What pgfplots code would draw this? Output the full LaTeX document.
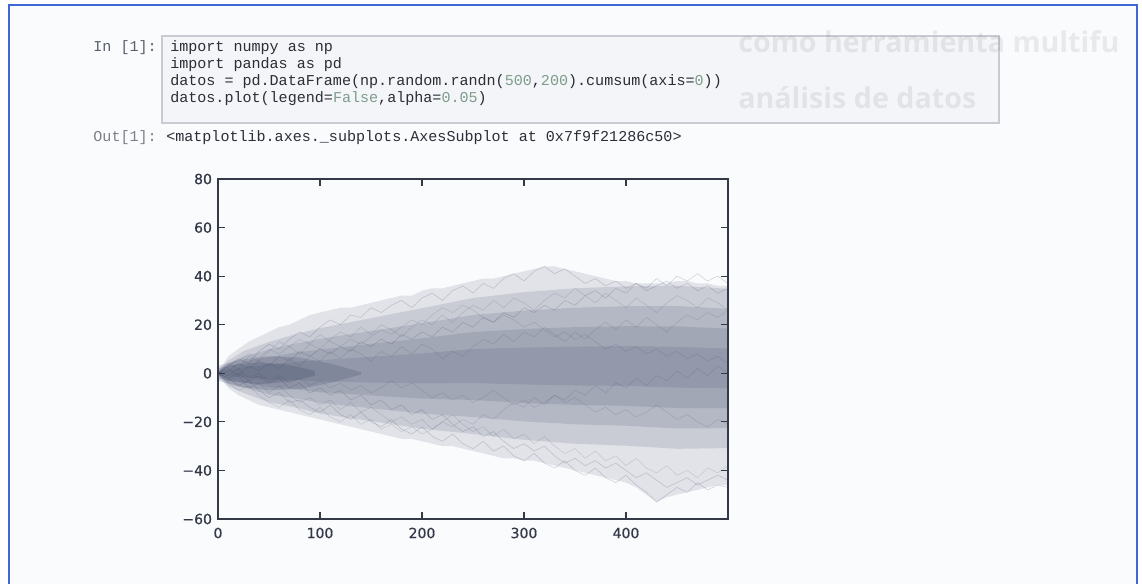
\documentclass[border=0pt]{standalone}
\usepackage{fontspec}
\setmainfont{DejaVu Sans}
\newfontfamily\codefont{Liberation Mono}
\newfontfamily\headfont{Open Sans}
\newfontfamily\tickfont[FakeBold=0.6]{DejaVu Sans}
\usepackage{pgfplots}
\pgfplotsset{compat=1.18}

\definecolor{frameblue}{HTML}{3F68D4}
\definecolor{pagebg}{HTML}{FAFBFD}
\definecolor{cellbg}{HTML}{F4F5F8}
\definecolor{cellline}{HTML}{C8CBD2}
\definecolor{codetxt}{HTML}{2A2E36}
\definecolor{prompt}{HTML}{5A606A}
\definecolor{numgreen}{HTML}{7E9C8A}
\definecolor{axisc}{HTML}{343948}
\definecolor{walk}{HTML}{2E3858}

\pgfplotsset{
  band/.style={draw=none, fill=walk, fill opacity=#1, mark=none},
  wk/.style={walk, line width=0.45pt, opacity=#1, mark=none},
}

\begin{document}
\begin{tikzpicture}
\begin{scope}[x=0.75pt,y=-0.75pt]
  \useasboundingbox (0,0) rectangle (1142,583);
  \fill[white] (0,0) rectangle (1142,583);
  \fill[pagebg] (9,5) rectangle (1137,600);
  \draw[frameblue, line width=1.6pt] (9,600) -- (9,5) -- (1137,5) -- (1137,600);

  % code cell
  \filldraw[fill=cellbg, draw=cellline, line width=0.8pt] (162,36) rectangle (999,123);
  \begin{scope}[every node/.style={inner sep=0pt, text=codetxt,
      font=\codefont\fontsize{11.3}{13}\selectfont}]
    \node[anchor=base east, text=prompt] at (157,51) {In [1]:};
    \node[anchor=base west] at (170,51) {import numpy as np};
    \node[anchor=base west] at (170,68) {import pandas as pd};
    \node[anchor=base west] at (170,85) {datos = pd.DataFrame(np.random.randn(\textcolor{numgreen}{500},\textcolor{numgreen}{200}).cumsum(axis=\textcolor{numgreen}{0}))};
    \node[anchor=base west] at (170,102) {datos.plot(legend=\textcolor{numgreen}{False},alpha=\textcolor{numgreen}{0.05})};
    \node[anchor=base east, text=prompt!80] at (157,141) {Out[1]:};
    \node[anchor=base west] at (166,141) {<matplotlib.axes.\_subplots.AxesSubplot at 0x7f9f21286c50>};
  \end{scope}
\end{scope}

\begin{axis}[
  at={(163.5pt,-389.25pt)}, anchor=south west,
  width=382.5pt, height=255pt, scale only axis,
  xmin=0, xmax=500, ymin=-60, ymax=80,
  xtick={0,100,200,300,400}, xticklabels={0,100,200,300,400},
  ytick={-60,-40,-20,0,20,40,60,80},
  yticklabels={−60,−40,−20,0,20,40,60,80},
  tick align=inside, major tick length=5pt,
  axis on top,
  axis line style={axisc, line width=1.1pt},
  every tick/.style={axisc, line width=0.8pt},
  tick label style={font=\tickfont\fontsize{10.5}{12}\selectfont, text=axisc},
  xticklabel style={yshift=-3pt},
  yticklabel style={xshift=-1pt},
]
  % spread of the 200 walks: outer edge, then nested bands
  \addplot[band=0.12] coordinates {(0,0.5) (10,7) (20,10) (30,13) (40,15) (50,17) (60,19) (70,20) (80,22) (90,24) (100,25) (110,26) (120,27) (130,27) (140,28) (150,29) (160,30) (170,31) (180,32) (190,32) (200,34) (210,35) (220,35) (230,36) (240,37) (250,38) (260,39) (270,39) (280,40) (290,41) (300,42) (310,43) (320,44) (330,44) (340,43) (350,42) (360,41) (370,40) (380,39) (390,38) (400,38) (410,37) (420,37) (430,37) (440,37) (450,38) (460,38) (470,37) (480,37) (490,36) (500,36)
    (500,-46) (490,-46) (480,-47) (470,-48) (460,-49) (450,-50) (440,-51) (430,-53) (420,-50) (410,-47) (400,-45) (390,-44) (380,-43) (370,-42) (360,-41) (350,-40) (340,-39) (330,-38) (320,-37) (310,-36) (300,-36) (290,-35) (280,-35) (270,-34) (260,-33) (250,-32) (240,-31) (230,-30) (220,-30) (210,-29) (200,-28) (190,-27) (180,-27) (170,-26) (160,-25) (150,-24) (140,-23) (130,-22) (120,-21) (110,-20) (100,-19) (90,-18) (80,-17) (70,-16) (60,-15) (50,-14) (40,-13) (30,-11) (20,-9) (10,-6) (0,-0.5)} -- cycle;
  \addplot[band=0.13] coordinates {(0,0.4) (10,5.2) (25,9.1) (50,12.9) (75,16) (100,18.6) (150,22.7) (200,26.8) (250,31) (300,33.4) (350,35) (400,35.8) (450,36.1) (500,34.8)
    (500,-30.8) (450,-31.1) (400,-29.8) (350,-29) (300,-27.4) (250,-25) (200,-22.8) (150,-19.7) (100,-16.6) (75,-14) (50,-11.9) (25,-8.1) (10,-5.2) (0,-0.4)} -- cycle;
  \addplot[band=0.13] coordinates {(0,0.3) (10,3.9) (25,6.9) (50,9.8) (75,12.2) (100,14.2) (150,17.4) (200,20.6) (250,24) (300,25.8) (350,27) (400,27.6) (450,27.7) (500,26.6)
    (500,-22.6) (450,-22.7) (400,-21.6) (350,-21) (300,-19.8) (250,-18) (200,-16.6) (150,-14.4) (100,-12.2) (75,-10.2) (50,-8.8) (25,-5.9) (10,-3.9) (0,-0.3)} -- cycle;
  \addplot[band=0.13] coordinates {(0,0.2) (10,2.6) (25,4.8) (50,6.7) (75,8.5) (100,9.8) (150,12.1) (200,14.4) (250,17) (300,18.2) (350,19) (400,19.4) (450,19.3) (500,18.4)
    (500,-14.4) (450,-14.3) (400,-13.4) (350,-13) (300,-12.2) (250,-11) (200,-10.4) (150,-9.1) (100,-7.8) (75,-6.5) (50,-5.7) (25,-3.8) (10,-2.6) (0,-0.2)} -- cycle;
  \addplot[band=0.12] coordinates {(0,0.1) (10,1.3) (25,2.6) (50,3.6) (75,4.7) (100,5.4) (150,6.8) (200,8.2) (250,10) (300,10.6) (350,11) (400,11.2) (450,10.9) (500,10.2)
    (500,-6.2) (450,-5.9) (400,-5.2) (350,-5) (300,-4.6) (250,-4) (200,-4.2) (150,-3.8) (100,-3.4) (75,-2.7) (50,-2.6) (25,-1.6) (10,-1.3) (0,-0.1)} -- cycle;
  % darker knot near the origin, where all walks still overlap
  \addplot[band=0.18] coordinates {(0,3) (20,5.5) (50,7) (80,6.5) (110,4) (140,0.5) (140,-0.5) (110,-4) (80,-6.5) (50,-7) (20,-5.5) (0,-3)} -- cycle;
  \addplot[band=0.2] coordinates {(0,2) (15,3.5) (40,4.5) (70,3.5) (95,1) (95,-1) (70,-3.5) (40,-4.5) (15,-3.5) (0,-2)} -- cycle;

  % single walks that make the ragged edges
  \addplot[wk=0.2] coordinates {(0,0) (10,3) (20,6) (30,4) (40,9) (50,12) (60,10) (70,14) (80,17) (90,15) (100,19) (110,22) (120,20) (130,24) (140,23) (150,27) (160,25) (170,28) (180,30) (190,27) (200,31) (210,33) (220,30) (230,34) (240,36) (250,33) (260,37) (270,35) (280,39) (290,41) (300,38) (310,42) (320,44) (330,41) (340,43) (350,40) (360,37) (370,39) (380,36) (390,38) (400,35) (410,37) (420,34) (430,36) (440,38) (450,35) (460,37) (470,34) (480,36) (490,33) (500,35)};
  \addplot[wk=0.2] coordinates {(0,0) (10,-2) (20,-5) (30,-3) (40,-7) (50,-10) (60,-8) (70,-12) (80,-11) (90,-14) (100,-16) (110,-13) (120,-17) (130,-19) (140,-16) (150,-20) (160,-22) (170,-19) (180,-23) (190,-25) (200,-22) (210,-26) (220,-28) (230,-25) (240,-29) (250,-31) (260,-28) (270,-32) (280,-30) (290,-34) (300,-36) (310,-33) (320,-37) (330,-39) (340,-36) (350,-40) (360,-42) (370,-39) (380,-43) (390,-45) (400,-42) (410,-46) (420,-49) (430,-53) (440,-50) (450,-47) (460,-49) (470,-45) (480,-48) (490,-46) (500,-47)};
  \addplot[wk=0.15] coordinates {(0,0) (10,4) (20,2) (30,7) (40,5) (50,9) (60,13) (70,11) (80,8) (90,12) (100,10) (110,14) (120,17) (130,15) (140,19) (150,16) (160,20) (170,18) (180,15) (190,19) (200,22) (210,20) (220,24) (230,21) (240,25) (250,28) (260,26) (270,30) (280,27) (290,31) (300,29) (310,26) (320,30) (330,33) (340,31) (350,35) (360,32) (370,29) (380,33) (390,30) (400,27) (410,31) (420,28) (430,25) (440,29) (450,32) (460,30) (470,27) (480,31) (490,29) (500,26)};
  \addplot[wk=0.15] coordinates {(0,0) (10,-3) (20,-1) (30,-6) (40,-4) (50,-8) (60,-5) (70,-9) (80,-12) (90,-10) (100,-13) (110,-11) (120,-15) (130,-12) (140,-16) (150,-14) (160,-17) (170,-20) (180,-18) (190,-21) (200,-19) (210,-23) (220,-20) (230,-17) (240,-21) (250,-24) (260,-22) (270,-26) (280,-23) (290,-27) (300,-25) (310,-29) (320,-26) (330,-30) (340,-33) (350,-31) (360,-35) (370,-32) (380,-36) (390,-34) (400,-38) (410,-35) (420,-39) (430,-41) (440,-38) (450,-42) (460,-40) (470,-43) (480,-39) (490,-41) (500,-38)};
  \addplot[wk=0.15] coordinates {(0,0) (10,2) (20,-1) (30,3) (40,1) (50,4) (60,2) (70,6) (80,3) (90,7) (100,5) (110,9) (120,6) (130,10) (140,8) (150,5) (160,9) (170,7) (180,11) (190,8) (200,12) (210,10) (220,6) (230,9) (240,7) (250,11) (260,14) (270,12) (280,16) (290,13) (300,17) (310,15) (320,19) (330,16) (340,13) (350,17) (360,14) (370,18) (380,21) (390,18) (400,22) (410,19) (420,23) (430,20) (440,17) (450,21) (460,24) (470,22) (480,25) (490,23) (500,26)};
  \addplot[wk=0.15] coordinates {(0,0) (10,-1) (20,2) (30,-2) (40,0) (50,-3) (60,-1) (70,-4) (80,-2) (90,-5) (100,-3) (110,-6) (120,-4) (130,-7) (140,-5) (150,-8) (160,-6) (170,-3) (180,-6) (190,-4) (200,-7) (210,-10) (220,-8) (230,-11) (240,-9) (250,-12) (260,-10) (270,-7) (280,-10) (290,-13) (300,-11) (310,-14) (320,-12) (330,-9) (340,-12) (350,-10) (360,-13) (370,-16) (380,-14) (390,-17) (400,-15) (410,-18) (420,-16) (430,-13) (440,-16) (450,-19) (460,-17) (470,-20) (480,-22) (490,-19) (500,-21)};
  \addplot[wk=0.15] coordinates {(0,0) (10,3) (20,5) (30,8) (40,6) (50,10) (60,8) (70,11) (80,14) (90,12) (100,16) (110,13) (120,11) (130,14) (140,12) (150,15) (160,18) (170,16) (180,19) (190,22) (200,20) (210,24) (220,27) (230,25) (240,28) (250,26) (260,23) (270,21) (280,24) (290,22) (300,19) (310,21) (320,18) (330,15) (340,17) (350,14) (360,16) (370,13) (380,10) (390,12) (400,9) (410,11) (420,8) (430,10) (440,7) (450,9) (460,6) (470,8) (480,5) (490,7) (500,4)};
  \addplot[wk=0.15] coordinates {(0,0) (10,-4) (20,-7) (30,-5) (40,-9) (50,-12) (60,-14) (70,-11) (80,-15) (90,-17) (100,-14) (110,-18) (120,-20) (130,-17) (140,-21) (150,-19) (160,-23) (170,-21) (180,-24) (190,-22) (200,-25) (210,-23) (220,-20) (230,-22) (240,-19) (250,-21) (260,-17) (270,-19) (280,-15) (290,-12) (300,-14) (310,-10) (320,-13) (330,-9) (340,-11) (350,-7) (360,-9) (370,-5) (380,-8) (390,-4) (400,-6) (410,-2) (420,-5) (430,-1) (440,-3) (450,1) (460,-2) (470,2) (480,-1) (490,3) (500,0)};
  \addplot[wk=0.2] coordinates {(0,0) (10,1) (20,4) (30,2) (40,5) (50,3) (60,7) (70,5) (80,9) (90,7) (100,10) (110,8) (120,11) (130,9) (140,13) (150,11) (160,14) (170,12) (180,16) (190,14) (200,17) (210,15) (220,19) (230,17) (240,21) (250,19) (260,23) (270,21) (280,25) (290,23) (300,27) (310,25) (320,28) (330,26) (340,30) (350,28) (360,32) (370,34) (380,31) (390,35) (400,33) (410,37) (420,35) (430,39) (440,36) (450,40) (460,38) (470,41) (480,38) (490,40) (500,37)};
  \addplot[wk=0.2] coordinates {(0,0) (10,-2) (20,0) (30,-3) (40,-1) (50,-4) (60,-2) (70,-6) (80,-4) (90,-8) (100,-6) (110,-9) (120,-7) (130,-11) (140,-9) (150,-13) (160,-11) (170,-15) (180,-13) (190,-17) (200,-15) (210,-19) (220,-17) (230,-21) (240,-24) (250,-22) (260,-26) (270,-24) (280,-28) (290,-31) (300,-29) (310,-32) (320,-30) (330,-34) (340,-37) (350,-35) (360,-38) (370,-36) (380,-39) (390,-37) (400,-40) (410,-43) (420,-41) (430,-44) (440,-47) (450,-45) (460,-43) (470,-46) (480,-44) (490,-42) (500,-44)};
\end{axis}

% faint show-through of the page behind
\begin{scope}[x=0.75pt,y=-0.75pt]
  \node[anchor=base west, inner sep=0pt, text=black, opacity=0.07,
    font=\headfont\bfseries\fontsize{21.5}{21.5}\selectfont] at (738,52) {como herramienta multifu};
  \node[anchor=base west, inner sep=0pt, text=black, opacity=0.07,
    font=\headfont\bfseries\fontsize{21.5}{21.5}\selectfont] at (738,108) {análisis de datos};
\end{scope}
\end{tikzpicture}
\end{document}
